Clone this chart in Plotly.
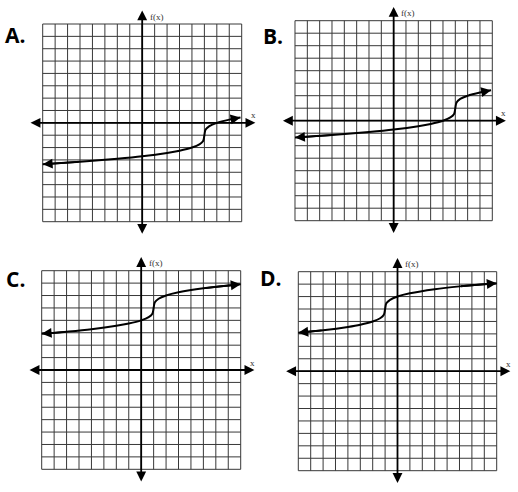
import plotly.graph_objects as go

W, H = 518, 492

labels = ["A.", "B.", "C.", "D."]

# grid box of every panel in pixels: left, top, right, bottom
boxes = [(42.7, 24.0, 241.7, 221.7),
         (295.0, 20.7, 492.3, 220.7),
         (41.7, 270.7, 240.7, 469.3),
         (298.3, 271.7, 496.7, 470.7)]
label_px = [(15, 35), (273, 36), (15, 279), (271, 278)]

grid_vals = list(range(-8, 9))
axis_end = 9.1
pad = 1.6

# curves
a_x = [-8, -5, -2, 0, 2, 3, 4, 4.6, 4.9, 5, 5.1, 5.4, 6, 7, 7.9]
a_y = [-3.35, -3.15, -2.91, -2.71, -2.44, -2.26, -2.0, -1.74, -1.46, -1.0, -0.54, -0.26, 0.0, 0.26, 0.43]

b_x = [-8, -5, -2, 0, 2, 3, 4, 4.6, 4.9, 5, 5.1, 5.4, 6, 7, 7.9]
b_y = [-1.35, -1.15, -0.91, -0.71, -0.44, -0.26, 0.0, 0.26, 0.54, 1.0, 1.46, 1.74, 2.0, 2.26, 2.43]

c_x = [-8, -6, -4, -2, -1, 0, 0.6, 0.9, 1, 1.1, 1.4, 2, 3, 5, 8]
c_y = [2.92, 3.09, 3.29, 3.56, 3.74, 4.0, 4.26, 4.54, 5.0, 5.46, 5.74, 6.0, 6.26, 6.59, 6.91]

d_x = [-8, -6, -4, -3, -2, -1.4, -1.1, -1, -0.9, -0.6, 0, 1, 3, 5, 8]
d_y = [3.09, 3.29, 3.56, 3.74, 4.0, 4.26, 4.54, 5.0, 5.46, 5.74, 6.0, 6.26, 6.59, 6.82, 7.08]

curves = [(a_x, a_y), (b_x, b_y), (c_x, c_y), (d_x, d_y)]

fig = go.Figure()
annotations = []

for i, (box, (cx, cy)) in enumerate(zip(boxes, curves)):
    n = "" if i == 0 else str(i + 1)
    xa, ya = "x" + n, "y" + n
    l, t, r, b = box
    sx = (r - l) / 16
    sy = (b - t) / 16

    fig.update_layout({
        "xaxis" + n: dict(domain=[(l - pad * sx) / W, (r + pad * sx) / W],
                          range=[-8 - pad, 8 + pad], visible=False,
                          fixedrange=True, anchor=ya),
        "yaxis" + n: dict(domain=[1 - (b + pad * sy) / H, 1 - (t - pad * sy) / H],
                          range=[-8 - pad, 8 + pad], visible=False,
                          fixedrange=True, anchor=xa),
    })

    # grid
    gx, gy = [], []
    for v in grid_vals:
        gx += [v, v, None, -8, 8, None]
        gy += [-8, 8, None, v, v, None]
    fig.add_trace(go.Scatter(x=gx, y=gy, xaxis=xa, yaxis=ya, mode="lines",
                             line=dict(color="#383838", width=1),
                             hoverinfo="skip", showlegend=False))

    # curve
    fig.add_trace(go.Scatter(x=cx, y=cy, xaxis=xa, yaxis=ya, mode="lines",
                             line=dict(color="black", width=2, shape="spline"),
                             hoverinfo="skip", showlegend=False))

    # axes with arrows on both ends
    arr = dict(xref=xa, yref=ya, axref=xa, ayref=ya, text="", showarrow=True,
               arrowhead=2, startarrowhead=2, arrowside="end+start",
               arrowsize=1.1, startarrowsize=1.1, arrowwidth=1.8,
               arrowcolor="black", standoff=0, startstandoff=0)
    annotations.append(dict(arr, x=axis_end, y=0, ax=-axis_end, ay=0))
    annotations.append(dict(arr, x=0, y=axis_end, ax=0, ay=-axis_end))

    # curve arrowheads
    head = dict(xref=xa, yref=ya, axref=xa, ayref=ya, text="", showarrow=True,
                arrowhead=2, arrowsize=1.1, arrowwidth=1.8,
                arrowcolor="black", standoff=0)
    annotations.append(dict(head, x=cx[-1], y=cy[-1], ax=cx[-2], ay=cy[-2]))
    annotations.append(dict(head, x=cx[0], y=cy[0], ax=cx[1], ay=cy[1]))

    # axis names
    annotations.append(dict(xref=xa, yref=ya, x=0.45, y=8.6, text="f(x)",
                            showarrow=False, xanchor="left", yanchor="middle",
                            font=dict(family="Liberation Serif", size=9, color="#333")))
    annotations.append(dict(xref=xa, yref=ya, x=8.55, y=0.6, text="x",
                            showarrow=False, xanchor="left", yanchor="middle",
                            font=dict(family="Liberation Serif", size=9, color="#333")))

    # panel letter
    px, py = label_px[i]
    annotations.append(dict(xref="paper", yref="paper", x=px / W, y=1 - py / H,
                            text="<b>" + labels[i] + "</b>", showarrow=False,
                            xanchor="center", yanchor="middle",
                            font=dict(family="Open Sans", size=21, color="black")))

fig.update_layout(width=W, height=H, margin=dict(l=0, r=0, t=0, b=0),
                  paper_bgcolor="white", plot_bgcolor="white",
                  annotations=annotations, showlegend=False)

# the page body has a default 8px margin; drop it so the figure sits at 0,0
fig.write_html("out.html", config={"displayModeBar": False},
               post_script="document.body.style.margin='0';")
